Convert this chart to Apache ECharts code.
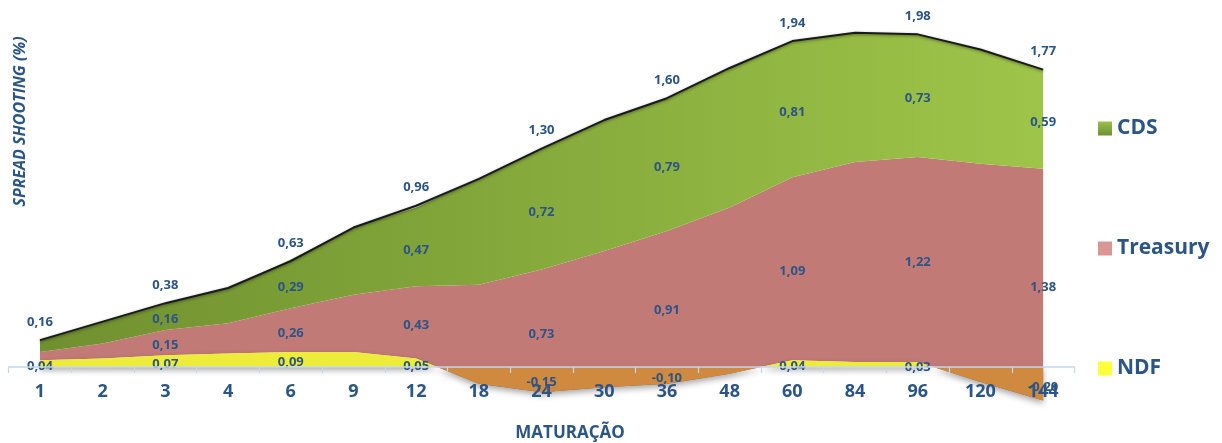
<!DOCTYPE html>
<html>
<head>
<meta charset="utf-8">
<script src="https://cdn.jsdelivr.net/npm/echarts@6/dist/echarts.min.js"></script>
<style>
  html, body { margin: 0; padding: 0; background: #ffffff; }
  #chart { width: 1222px; height: 443px; }
</style>
</head>
<body>
<div id="chart"></div>
<script>
// Maturities (months) on the horizontal axis
const maturities = ['1', '2', '3', '4', '6', '9', '12', '18', '24', '30', '36', '48', '60', '84', '96', '120', '144'];

// Spread components (%), stacked in this order
const ndf      = [0.04, 0.05, 0.07, 0.08, 0.09, 0.09, 0.05, -0.10, -0.15, -0.12, -0.10, -0.04, 0.04, 0.03, 0.03, -0.09, -0.20];
const treasury = [0.05, 0.09, 0.15, 0.18, 0.26, 0.34, 0.43, 0.59, 0.73, 0.81, 0.91, 0.99, 1.09, 1.19, 1.22, 1.30, 1.38];
const cds      = [0.07, 0.13, 0.16, 0.21, 0.29, 0.40, 0.47, 0.63, 0.72, 0.78, 0.79, 0.83, 0.81, 0.77, 0.73, 0.68, 0.59];

// Total spread shooting (%), drawn as the outline on top
const total    = [0.16, 0.27, 0.38, 0.47, 0.63, 0.83, 0.96, 1.12, 1.30, 1.47, 1.60, 1.78, 1.94, 1.99, 1.98, 1.89, 1.77];

// Maturities that carry value labels
const labelledMaturities = ['1', '3', '6', '12', '24', '36', '60', '96', '144'];

const TEXT_BLUE = '#2b5587';
const FONT = "'Open Sans', 'Liberation Sans', sans-serif";
const NDF_POS = '#eeec3a';
const NDF_NEG = '#d08a40';

const chart = echarts.init(document.getElementById('chart'), null, { renderer: 'canvas' });

const fmt = v => v.toFixed(2).replace('.', ',');

// Running base of each stacked band
const zeroBase = ndf.map(() => 0);
const treasuryBase = ndf.slice();
const cdsBase = ndf.map((v, i) => v + treasury[i]);

function withLabels(values, skipFirst) {
  return values.map((v, i) => ({
    value: v,
    label: { show: labelledMaturities.includes(maturities[i]) && !(skipFirst && i === 0) }
  }));
}

// Place band labels in the middle of their band
function bandLabelLayout(values, base) {
  return function (p) {
    const i = p.dataIndex;
    let x, y;
    try {
      x = chart.convertToPixel({ xAxisIndex: 0 }, i);
      y = chart.convertToPixel({ yAxisIndex: 0 }, base[i] + values[i] / 2);
    } catch (e) {
      return {};
    }
    if (x == null || y == null || isNaN(x) || isNaN(y)) return {};
    return { x: x, y: y + 3, align: 'center', verticalAlign: 'middle' };
  };
}

const valueLabel = {
  show: true,
  position: 'inside',
  opacity: 1,
  color: TEXT_BLUE,
  fontFamily: FONT,
  fontWeight: 'bold',
  fontSize: 13,
  formatter: p => fmt(p.value)
};

const cdsFill = new echarts.graphic.LinearGradient(0, 0, 1, 0, [
  { offset: 0, color: '#70902f' },
  { offset: 0.5, color: '#86aa3c' },
  { offset: 1, color: '#9ec549' }
]);
const cdsIcon = new echarts.graphic.LinearGradient(0, 0, 0, 1, [
  { offset: 0, color: '#9bc14f' },
  { offset: 1, color: '#6f8e32' }
]);

// The axis sits on the zero line at the bottom of the grid; the negative
// NDF band is drawn below it (series are not clipped to the grid).
const option = {
  animation: false,
  backgroundColor: '#ffffff',
  grid: { left: 8.6, right: 147.5, top: 31, bottom: 76, outerBoundsMode: 'none', containLabel: false },
  xAxis: {
    type: 'category',
    data: maturities,
    boundaryGap: true,
    z: 10,
    axisLine: { lineStyle: { color: '#c6d8ee', width: 1.5 } },
    axisTick: { show: true, interval: 0, length: 6, lineStyle: { color: '#c6d8ee', width: 1.2 } },
    axisLabel: {
      interval: 0, margin: 16, color: TEXT_BLUE,
      fontFamily: FONT, fontWeight: 'bold', fontSize: 18
    },
    splitLine: { show: false },
    name: 'MATURAÇÃO',
    nameLocation: 'middle',
    nameGap: 58,
    nameTextStyle: {
      color: TEXT_BLUE, fontFamily: FONT, fontWeight: 'bold', fontSize: 17,
      padding: [0, 0, 0, 57]
    }
  },
  yAxis: {
    type: 'value',
    min: 0,
    max: 2.0,
    show: false
  },
  legend: {
    orient: 'vertical',
    left: 1093,
    top: 113,
    itemWidth: 14,
    itemHeight: 14,
    itemGap: 99,
    icon: 'rect',
    selectedMode: false,
    textStyle: { color: TEXT_BLUE, fontFamily: FONT, fontWeight: 'bold', fontSize: 21, lineHeight: 20 },
    data: [
      { name: 'CDS', itemStyle: { color: cdsIcon, opacity: 1 } },
      { name: 'Treasury', itemStyle: { color: '#d99694', opacity: 1 } },
      { name: 'NDF', itemStyle: { color: '#ffff3a', opacity: 1 } }
    ]
  },
  graphic: [{
    type: 'text',
    x: 20.5,
    y: 121.5,
    rotation: Math.PI / 2,
    style: {
      text: 'SPREAD SHOOTING (%)',
      font: "italic bold 16px 'Open Sans', sans-serif",
      fill: TEXT_BLUE,
      align: 'center',
      verticalAlign: 'middle'
    }
  }],
  series: [
    {
      id: 'ndf',
      name: 'NDF',
      type: 'line',
      stack: 'spread',
      stackStrategy: 'all',
      clip: false,
      z: 4,
      data: withLabels(ndf, false),
      symbol: 'circle',
      symbolSize: 1,
      itemStyle: { color: NDF_POS, opacity: 0 },
      lineStyle: { width: 0 },
      areaStyle: { color: NDF_POS, opacity: 1, shadowBlur: 6, shadowColor: 'rgba(0,0,0,0.35)', shadowOffsetY: 3 },
      label: valueLabel,
      labelLayout: bandLabelLayout(ndf, zeroBase)
    },
    {
      name: 'Treasury',
      type: 'line',
      stack: 'spread',
      stackStrategy: 'all',
      clip: false,
      z: 2,
      data: withLabels(treasury, true),
      symbol: 'circle',
      symbolSize: 1,
      itemStyle: { color: '#c27a77', opacity: 0 },
      lineStyle: { width: 0 },
      areaStyle: { color: '#c27a77', opacity: 1 },
      label: valueLabel,
      labelLayout: bandLabelLayout(treasury, treasuryBase)
    },
    {
      name: 'CDS',
      type: 'line',
      stack: 'spread',
      stackStrategy: 'all',
      clip: false,
      z: 2,
      data: withLabels(cds, true),
      symbol: 'circle',
      symbolSize: 1,
      itemStyle: { color: '#86aa3c', opacity: 0 },
      lineStyle: { width: 0 },
      areaStyle: { color: cdsFill, opacity: 1 },
      label: valueLabel,
      labelLayout: bandLabelLayout(cds, cdsBase)
    },
    {
      name: 'Total',
      type: 'line',
      clip: false,
      z: 6,
      data: withLabels(total, false),
      symbol: 'circle',
      symbolSize: 1,
      itemStyle: { color: '#1a1a1a', opacity: 0 },
      lineStyle: { color: '#1a1a1a', width: 2, shadowBlur: 3, shadowColor: 'rgba(0,0,0,0.45)', shadowOffsetY: 1 },
      label: Object.assign({}, valueLabel, { position: 'top', distance: 11 })
    }
  ]
};

chart.setOption(option);

// NDF band: yellow above zero, orange below, split exactly at the zero line
const zeroY = chart.convertToPixel({ yAxisIndex: 0 }, 0);
chart.setOption({
  series: [{
    id: 'ndf',
    areaStyle: {
      color: new echarts.graphic.LinearGradient(0, zeroY - 1, 0, zeroY + 1, [
        { offset: 0, color: NDF_POS },
        { offset: 0.5, color: NDF_POS },
        { offset: 0.5, color: NDF_NEG },
        { offset: 1, color: NDF_NEG }
      ], true)
    }
  }]
});
</script>
</body>
</html>
